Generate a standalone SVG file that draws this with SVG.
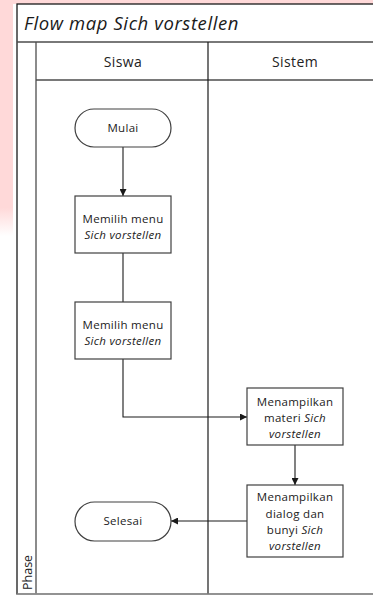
<svg xmlns="http://www.w3.org/2000/svg" width="373" height="597" viewBox="0 0 373 597">
  <defs>
    <marker id="arrow" viewBox="0 0 10 10" refX="10" refY="5" markerWidth="7" markerHeight="7" markerUnits="userSpaceOnUse" orient="auto">
      <path d="M0,0 L10,5 L0,10 z" fill="#1a1a1a"/>
    </marker>
    <linearGradient id="pinkFade" x1="0" y1="0" x2="0" y2="1">
      <stop offset="0" stop-color="#ffd9d9"/>
      <stop offset="0.88" stop-color="#ffd9d9"/>
      <stop offset="1" stop-color="#ffd9d9" stop-opacity="0"/>
    </linearGradient>
  </defs>
  <style>
    .frame { fill: none; stroke: #4d4d4d; stroke-width: 1.3; }
    .node { fill: #ffffff; stroke: #404040; stroke-width: 1.2; }
    .conn { fill: none; stroke: #1a1a1a; stroke-width: 1.1; }
    .lbl { font-family: "Open Sans", "Liberation Sans", sans-serif; font-size: 11.5px; letter-spacing: 0.3px; fill: #222; text-anchor: middle; }
    .it { font-style: italic; }
    .hdr { font-family: "Open Sans", "Liberation Sans", sans-serif; font-size: 14px; letter-spacing: 0.4px; fill: #222; text-anchor: middle; }
  </style>

  <!-- page background -->
  <rect x="0" y="0" width="373" height="597" fill="#ffffff"/>
  <rect x="0" y="0" width="13" height="236" fill="url(#pinkFade)"/>
  <rect x="0" y="0" width="373" height="4" fill="#ffd9d9"/>

  <!-- swimlane frame -->
  <g id="pool">
    <rect x="17" y="4" width="370" height="590" fill="#ffffff" stroke="#1a1a1a" stroke-width="1.3"/>
    <line class="frame" x1="17" y1="42" x2="373" y2="42"/>
    <line class="frame" x1="36" y1="42" x2="36" y2="594"/>
    <line class="frame" x1="36" y1="80" x2="373" y2="80"/>
    <line x1="208" y1="42" x2="208" y2="594" stroke="#1a1a1a" stroke-width="1.2"/>
    <line x1="17" y1="594" x2="373" y2="594" stroke="#bdbdbd" stroke-width="1"/>
    <text x="24" y="30" font-family="Open Sans, Liberation Sans, sans-serif" font-size="18.5" letter-spacing="0.6" font-style="italic" fill="#1a1a1a">Flow map Sich vorstellen</text>
    <text class="hdr" x="123" y="67">Siswa</text>
    <text class="hdr" x="295" y="67">Sistem</text>
    <text x="32" y="590" font-family="Open Sans, Liberation Sans, sans-serif" font-size="12.5" fill="#222" transform="rotate(-90 32 590)">Phase</text>
  </g>

  <!-- connectors -->
  <g id="connectors">
    <line class="conn" x1="123" y1="147" x2="123" y2="196" marker-end="url(#arrow)"/>
    <line class="conn" x1="123" y1="253" x2="123" y2="302"/>
    <polyline class="conn" points="123,359 123,417 247,417" marker-end="url(#arrow)"/>
    <line class="conn" x1="295" y1="445" x2="295" y2="485" marker-end="url(#arrow)"/>
    <line class="conn" x1="247" y1="521" x2="171" y2="521" marker-end="url(#arrow)"/>
  </g>

  <g id="mulai">
    <rect class="node" x="75" y="109" width="96" height="38" rx="19" ry="19"/>
    <text class="lbl" x="123" y="132">Mulai</text>
  </g>

  <g id="pilih-menu-1">
    <rect class="node" x="75" y="196" width="96" height="57"/>
    <text class="lbl" x="123" y="223">Memilih menu</text>
    <text class="lbl it" x="123" y="239">Sich vorstellen</text>
  </g>

  <g id="pilih-menu-2">
    <rect class="node" x="75" y="302" width="96" height="57"/>
    <text class="lbl" x="123" y="329">Memilih menu</text>
    <text class="lbl it" x="123" y="345">Sich vorstellen</text>
  </g>

  <g id="tampil-materi">
    <rect class="node" x="247" y="388" width="96" height="57"/>
    <text class="lbl" x="295" y="406">Menampilkan</text>
    <text class="lbl" x="295" y="422">materi <tspan class="it">Sich</tspan></text>
    <text class="lbl it" x="295" y="438">vorstellen</text>
  </g>

  <g id="tampil-dialog">
    <rect class="node" x="247" y="485" width="96" height="72"/>
    <text class="lbl" x="295" y="501">Menampilkan</text>
    <text class="lbl" x="295" y="518">dialog dan</text>
    <text class="lbl" x="295" y="534">bunyi <tspan class="it">Sich</tspan></text>
    <text class="lbl it" x="295" y="550">vorstellen</text>
  </g>

  <g id="selesai">
    <rect class="node" x="75" y="502" width="96" height="39" rx="19.5" ry="19.5"/>
    <text class="lbl" x="123" y="525">Selesai</text>
  </g>
</svg>
